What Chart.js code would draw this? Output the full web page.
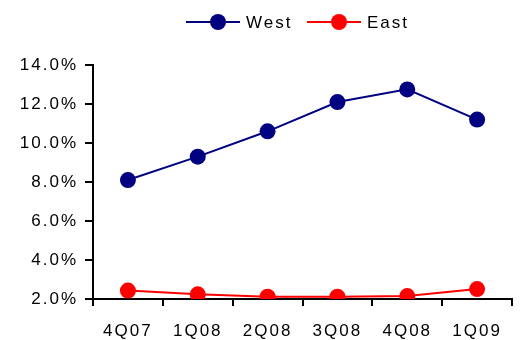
<!DOCTYPE html>
<html>
<head>
<meta charset="utf-8">
<script src="https://cdn.jsdelivr.net/npm/chart.js@4/dist/chart.umd.min.js"></script>
<style>
  html, body { margin: 0; padding: 0; background: #fff; }
  #wrap { width: 520px; height: 340px; }
</style>
</head>
<body>
<div id="wrap"><canvas id="c" width="520" height="340"></canvas></div>
<script>
// Quarterly share by region (percent)
const quarters = ['4Q07', '1Q08', '2Q08', '3Q08', '4Q08', '1Q09'];
const westShare = [8.1, 9.3, 10.6, 12.1, 12.75, 11.2];
const eastShare = [2.43, 2.24, 2.12, 2.12, 2.15, 2.51];
const yTicks = [2, 4, 6, 8, 10, 12, 14];

const FONT = 'Liberation Sans, Arial, sans-serif';
const SPACING = '2px';

// Keep the wide letter spacing on every text draw
const spacingPlugin = {
  id: 'spacing',
  beforeUpdate(chart) { chart.ctx.letterSpacing = SPACING; },
  beforeDraw(chart) { chart.ctx.letterSpacing = SPACING; }
};

// Legend row at the top: line segment with a marker, then the series name
const lineLegend = {
  id: 'lineLegend',
  afterDraw(chart) {
    const ctx = chart.ctx;
    const items = [
      { ds: chart.data.datasets[0], x: 186 },
      { ds: chart.data.datasets[1], x: 307 }
    ];
    const y = 22;
    ctx.save();
    ctx.letterSpacing = SPACING;
    ctx.font = '17px ' + FONT;
    ctx.textBaseline = 'middle';
    ctx.textAlign = 'left';
    items.forEach(({ ds, x }) => {
      ctx.strokeStyle = ds.borderColor;
      ctx.lineWidth = 2;
      ctx.beginPath();
      ctx.moveTo(x, y);
      ctx.lineTo(x + 54, y);
      ctx.stroke();
      ctx.fillStyle = ds.backgroundColor;
      ctx.beginPath();
      ctx.arc(x + 32, y, 8, 0, Math.PI * 2);
      ctx.fill();
      ctx.fillStyle = '#000';
      ctx.fillText(ds.label, x + 60, y + 1);
    });
    ctx.restore();
  }
};

new Chart(document.getElementById('c'), {
  type: 'line',
  data: {
    labels: quarters,
    datasets: [
      {
        label: 'West',
        data: westShare,
        borderColor: '#000080',
        backgroundColor: '#000080',
        borderWidth: 2,
        pointRadius: 8,
        pointBorderWidth: 0,
        pointBackgroundColor: '#000080',
        tension: 0
      },
      {
        label: 'East',
        data: eastShare,
        borderColor: '#ff0000',
        backgroundColor: '#ff0000',
        borderWidth: 2,
        pointRadius: 8,
        pointBorderWidth: 0,
        pointBackgroundColor: '#ff0000',
        tension: 0
      }
    ]
  },
  options: {
    responsive: false,
    animation: false,
    layout: { padding: { top: 65, right: 4, left: 0, bottom: 0 } },
    plugins: {
      legend: { display: false },
      tooltip: { enabled: false }
    },
    scales: {
      x: {
        offset: true,
        grid: {
          offset: true,
          drawOnChartArea: false,
          drawTicks: true,
          tickLength: 7,
          color: '#000',
          lineWidth: 2
        },
        border: { color: '#000', width: 2 },
        ticks: {
          color: '#000',
          font: { family: FONT, size: 17 },
          padding: 15,
          maxRotation: 0
        },
        afterFit(scale) { scale.height = 41; }
      },
      y: {
        min: 2,
        max: 14,
        afterBuildTicks(scale) { scale.ticks = yTicks.map(v => ({ value: v })); },
        grid: {
          drawOnChartArea: false,
          drawTicks: true,
          tickLength: 8,
          color: '#000',
          lineWidth: 2
        },
        border: { color: '#000', width: 2 },
        ticks: {
          color: '#000',
          font: { family: FONT, size: 17 },
          padding: 7,
          callback: v => v.toFixed(1) + '%'
        },
        afterFit(scale) { scale.width = 93; }
      }
    }
  },
  plugins: [spacingPlugin, lineLegend]
});
</script>
</body>
</html>
